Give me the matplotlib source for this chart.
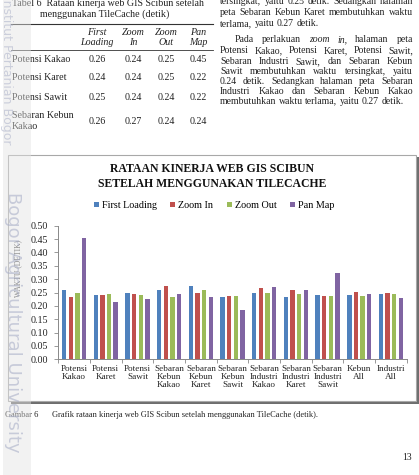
import matplotlib
matplotlib.use("Agg")
import matplotlib.pyplot as plt
from matplotlib.patches import Rectangle, Patch
from matplotlib.lines import Line2D
import numpy as np

W, H = 419, 475

categories = ["Potensi\nKakao", "Potensi\nKaret", "Potensi\nSawit",
              "Sebaran\nKebun\nKakao", "Sebaran\nKebun\nKaret", "Sebaran\nKebun\nSawit",
              "Sebaran\nIndustri\nKakao", "Sebaran\nIndustri\nKaret", "Sebaran\nIndustri\nSawit",
              "Kebun\nAll", "Industri\nAll"]
first_loading = [0.26, 0.24, 0.25, 0.26, 0.275, 0.235, 0.25, 0.235, 0.24, 0.24, 0.245]
zoom_in       = [0.235, 0.24, 0.245, 0.275, 0.25, 0.238, 0.267, 0.26, 0.238, 0.253, 0.25]
zoom_out      = [0.25, 0.245, 0.24, 0.235, 0.26, 0.238, 0.25, 0.245, 0.236, 0.237, 0.245]
pan_map       = [0.455, 0.215, 0.225, 0.243, 0.232, 0.186, 0.27, 0.26, 0.322, 0.245, 0.228]
series_names = ["First Loading", "Zoom In", "Zoom Out", "Pan Map"]
colors = ["#4F81BD", "#C0504D", "#9BBB59", "#8064A2"]
yticks = [0.00, 0.05, 0.10, 0.15, 0.20, 0.25, 0.30, 0.35, 0.40, 0.45, 0.50]

table_rows = ["Potensi Kakao", "Potensi Karet", "Potensi Sawit", "Sebaran Kebun\nKakao"]
table_vals = [["0.26", "0.24", "0.25", "0.45"],
              ["0.24", "0.24", "0.25", "0.22"],
              ["0.25", "0.24", "0.24", "0.22"],
              ["0.26", "0.27", "0.24", "0.24"]]
table_head = ["First\nLoading", "Zoom\nIn", "Zoom\nOut", "Pan\nMap"]

SERIF = "Liberation Serif"

fig = plt.figure(figsize=(W / 100, H / 100), dpi=100)
fig.patch.set_facecolor("white")


def fx(px):
    return px / W


def fy(py):
    return 1 - py / H


# ---------- chart box with shadow ----------
bx0, by0, bx1, by1 = 8, 155, 416, 401
fig.patches.append(Rectangle((fx(bx0 + 2.5), fy(by1 + 2.5)), (bx1 - bx0) / W, (by1 - by0) / H,
                             transform=fig.transFigure, facecolor="#6e6e6e", edgecolor="none", zorder=0))
fig.patches.append(Rectangle((fx(bx0), fy(by1)), (bx1 - bx0) / W, (by1 - by0) / H,
                             transform=fig.transFigure, facecolor="white", edgecolor="#a8a8a8",
                             linewidth=0.8, zorder=0.5))

# ---------- axes ----------
ax_l, ax_r, ax_t, ax_b = 58.3, 406.7, 225.7, 359.3
ax = fig.add_axes([fx(ax_l), fy(ax_b), (ax_r - ax_l) / W, (ax_b - ax_t) / H])
ax.set_zorder(2)
ax.set_facecolor("none")
x = np.arange(len(categories))
step, bw = 0.21, 0.145
for i, (vals, c, name) in enumerate(zip([first_loading, zoom_in, zoom_out, pan_map], colors, series_names)):
    ax.bar(x + (i - 1.5) * step, vals, width=bw, color=c, label=name, zorder=2)
ax.set_xlim(-0.5, len(categories) - 0.5)
ax.set_ylim(0, 0.5)
ax.set_yticks(yticks)
ax.set_yticklabels([f"{v:.2f}" for v in yticks], fontsize=7.2, family=SERIF, color="#222222")
ax.set_xticks(x)
ax.set_xticklabels(categories, fontsize=6.6, family=SERIF, color="#222222", linespacing=1.05)
ax.set_xticks(np.arange(len(categories) + 1) - 0.5, minor=True)
ax.tick_params(axis="x", which="major", length=0, pad=4)
ax.tick_params(axis="x", which="minor", length=3, color="#888888", width=0.6, direction="out")
ax.tick_params(axis="y", length=3, color="#888888", width=0.6, pad=4.5, direction="out")
for s in ["top", "right"]:
    ax.spines[s].set_visible(False)
for s in ["left", "bottom"]:
    ax.spines[s].set_color("#888888")
    ax.spines[s].set_linewidth(0.7)

# title
fig.text(fx(212), fy(169), "RATAAN KINERJA WEB GIS SCIBUN", ha="center", va="center",
         fontsize=8.5, fontweight="bold", family=SERIF, color="#111111", zorder=3)
fig.text(fx(212), fy(184), "SETELAH MENGGUNAKAN TILECACHE", ha="center", va="center",
         fontsize=8.5, fontweight="bold", family=SERIF, color="#111111", zorder=3)

# legend
handles = [Patch(facecolor=c, edgecolor="none") for c in colors]
leg = fig.legend(handles, series_names, loc="center", bbox_to_anchor=(fx(214), fy(205.7)), ncol=4,
                 frameon=False, prop={"family": SERIF, "size": 7.3}, handlelength=0.5, handleheight=0.5,
                 handletextpad=0.3, columnspacing=1.3, borderaxespad=0, borderpad=0)
leg.set_zorder(3)

# y label
fig.text(fx(18), fy(268), "WAKTU (DETIK)", rotation=90, ha="center", va="center",
         fontsize=5.5, family=SERIF, color="#444444", zorder=3)

# ---------- table (top-left) ----------
tk = dict(family=SERIF, fontsize=7.2, color="#222222")
fig.text(fx(12), fy(3), "Tabel 6  Rataan kinerja web GIS Scibun setelah", ha="left", va="center", **tk)
fig.text(fx(40), fy(14), "menggunakan TileCache (detik)", ha="left", va="center", **tk)
fig.add_artist(Line2D([fx(11), fx(213)], [fy(24), fy(24)], color="#333333", lw=0.8))
fig.add_artist(Line2D([fx(11), fx(213)], [fy(50), fy(50)], color="#333333", lw=0.6))
col_x = [97, 133, 166, 198]
for cx, h in zip(col_x, table_head):
    fig.text(fx(cx), fy(37.5), h, ha="center", va="center", style="italic", linespacing=1.15, **tk)
row_y = [59, 78, 97, 121]
for ry, name, vals in zip(row_y, table_rows, table_vals):
    fig.text(fx(12), fy(ry), name, ha="left", va="center", linespacing=1.15, **tk)
    for cx, v in zip(col_x, vals):
        fig.text(fx(cx), fy(ry), v, ha="center", va="center", **tk)

# ---------- paragraph (top-right), justified ----------
pk = dict(family=SERIF, fontsize=7.0, color="#222222")
renderer = fig.canvas.get_renderer()
para = [
    (3.5, 220, "tersingkat, yaitu 0.25 detik. Sedangkan halaman", True),
    (15, 220, "peta Sebaran Kebun Karet membutuhkan waktu", True),
    (26, 220, "terlama, yaitu 0.27 detik.", False),
    (42, 235, "Pada perlakuan _zoom _in, halaman peta", True),
    (53, 220, "Potensi Kakao, Potensi Karet, Potensi Sawit,", True),
    (64, 220, "Sebaran Industri Sawit, dan Sebaran Kebun", True),
    (74, 220, "Sawit  membutuhkan waktu tersingkat, yaitu", True),
    (84, 220, "0.24 detik. Sedangkan halaman peta Sebaran", True),
    (94, 220, "Industri Kakao dan Sebaran Kebun Kakao", True),
    (103.5, 220, "membutuhkan waktu terlama, yaitu 0.27 detik.", False),
]
right_edge = 413
for py, x0, line, just in para:
    words = line.split()
    arts = []
    for w in words:
        italic = w.startswith("_")
        w2 = w[1:] if italic else w
        t = fig.text(fx(x0), fy(py), w2, ha="left", va="baseline",
                     style="italic" if italic else "normal", **pk)
        arts.append(t)
    widths = [a.get_window_extent(renderer).width for a in arts]
    space = renderer.points_to_pixels(pk["fontsize"]) * 0.25
    if just and len(words) > 1:
        space = (right_edge - x0 - sum(widths)) / (len(words) - 1)
    cur = x0
    for a, wd in zip(arts, widths):
        a.set_x(fx(cur))
        cur += wd + space

# ---------- caption & page number ----------
ck = dict(family=SERIF, fontsize=6.0, color="#222222")
fig.text(fx(5), fy(415), "Gambar 6", ha="left", va="center", **ck)
fig.text(fx(52), fy(415), "Grafik rataan kinerja web GIS Scibun setelah menggunakan TileCache (detik).",
         ha="left", va="center", **ck)
fig.text(fx(412), fy(457), "13", ha="right", va="center", **pk)

# ---------- watermark band ----------
fig.patches.append(Rectangle((fx(3), 0), 28 / W, 1, transform=fig.transFigure,
                             facecolor="#e4e4e4", edgecolor="none", alpha=0.45, zorder=10))
fig.text(fx(6), fy(-4), "Institut Pertanian Bogor", rotation=-90, ha="center", va="top",
         fontsize=9, family="DejaVu Sans", color="#aab0c8", alpha=0.55, zorder=11)
fig.text(fx(13), fy(192), "Bogor Agricultural University", rotation=-90, ha="center", va="top",
         fontsize=13, family="DejaVu Sans", color="#aab0c8", alpha=0.6, zorder=11)

fig.savefig("out.png", dpi=100)
